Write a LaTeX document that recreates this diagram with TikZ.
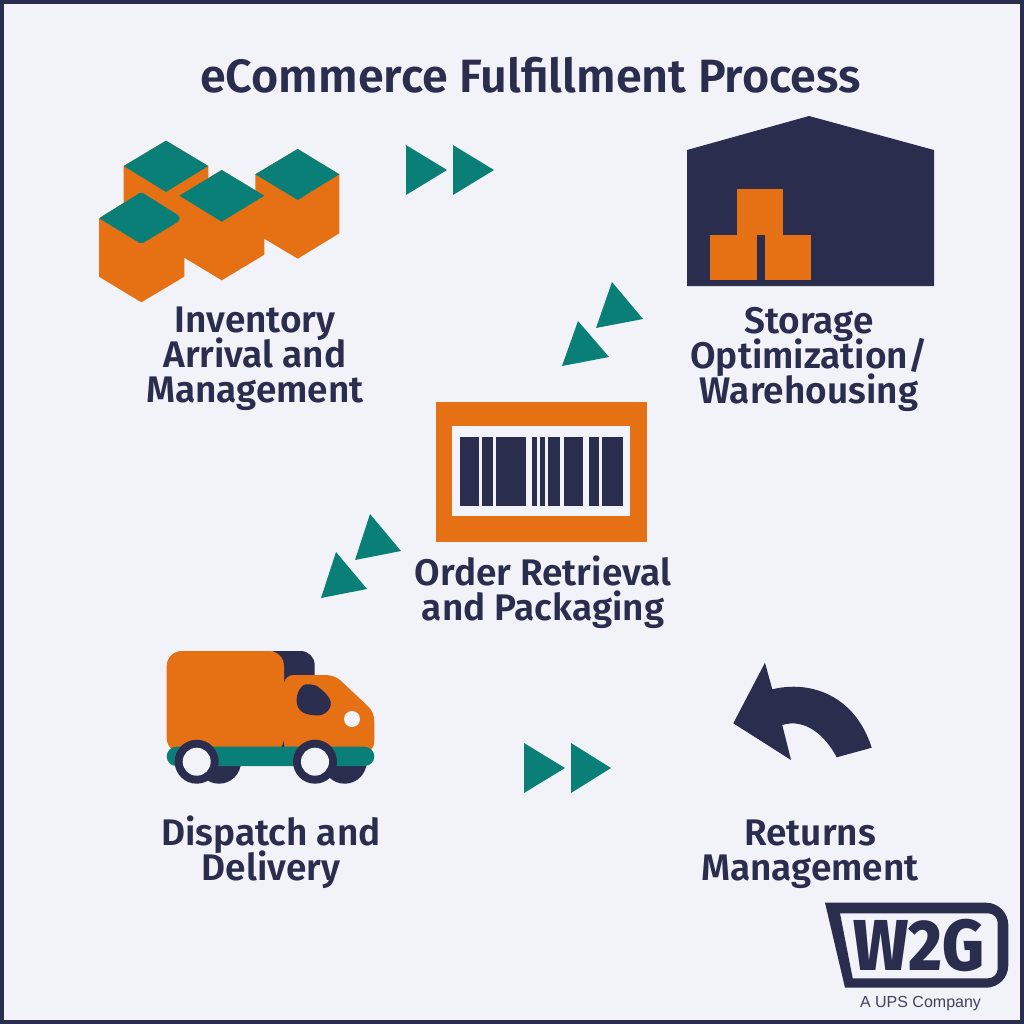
\documentclass[tikz,border=0pt]{standalone}
\usepackage{fontspec}
\setmainfont{Fira Sans}
\newfontfamily\labfont{Fira Sans SemiBold}
\newfontfamily\logofont{Fira Sans ExtraBold}
\newfontfamily\ups{Liberation Sans}
\definecolor{navy}{HTML}{2B2D4E}
\definecolor{paper}{HTML}{F1F3F9}
\definecolor{tealc}{HTML}{0A7F78}
\definecolor{orangec}{HTML}{E67114}
\newcommand{\labset}{\labfont\fontsize{18.5}{17.5}\selectfont\lineskiplimit=-20pt\relax}
\tikzset{
  lab/.style={font=\labset,text=navy,align=center,inner sep=0pt},
  ttl/.style={font=\labfont\fontsize{23.35}{24}\selectfont,text=navy,inner sep=0pt},
  tri/.style={fill=tealc,draw=none},
  org/.style={fill=orangec,draw=none},
  nvy/.style={fill=navy,draw=none},
  tl/.style={fill=tealc,draw=none},
  pap/.style={fill=paper,draw=none}
}
\begin{document}
\begin{tikzpicture}[x=0.5pt,y=-0.5pt]
\useasboundingbox (0,0) rectangle (1024,1024);
\fill[navy] (0,0) rectangle (1024,1024);
\fill[paper] (4,4) rectangle (1020,1020);
\node[ttl] (title) at (530.5,75) {eCommerce Fulfillment Process};
% cubes
\fill[org] (123.7,166) -- (166,140.7) -- (208.3,166) -- (208.3,225) -- (166,250) -- (123.7,225) -- cycle;
\fill[tl] (166,140.7) -- (208.3,166) -- (166,192) -- (123.7,166) -- cycle;
\fill[org] (255.3,174.3) -- (297.7,149) -- (339.3,174.3) -- (339.3,233.3) -- (297.7,258.7) -- (255.3,233.3) -- cycle;
\fill[org] (179.3,195.7) -- (221.7,170) -- (264.3,195.7) -- (264.3,254.7) -- (221.7,280.3) -- (179.3,254.7) -- cycle;
\fill[org] (99,218.3) -- (141.3,192) -- (184.3,218) -- (184.3,276.7) -- (141.3,302.3) -- (99,276.7) -- cycle;
\fill[tl] (297.7,149) -- (339.3,174.3) -- (297.7,200) -- (255.3,174.3) -- cycle;
\fill[tl] (221.7,170) -- (264.3,195.7) -- (221.7,221.7) -- (179.3,195.7) -- cycle;
\fill[tl,rounded corners=1pt] (141.3,192) -- (179.5,216) -- (179.5,221) -- (141.3,244) -- (99,218.3) -- cycle;
\node[lab] (inv) at (255,359) {Inventory\\Arrival and\\Management};
% warehouse
\fill[nvy] (687,150) -- (809,116) -- (934,150) -- (934,286) -- (687,286) -- cycle;
\fill[org] (710,235) rectangle (757,280);
\fill[org] (765,235) rectangle (811,280);
\fill[org] (737,189) rectangle (783,235);
\node[lab] (sto) at (809,359) {Storage\\Optimization/\\Warehousing};
% barcode
\fill[org] (436,401.7) rectangle (647.3,542);
\fill[pap] (452.3,425.7) rectangle (630.3,516.3);
\foreach \a/\b in {459.7/479,482.3/492.7,496/526,532.3/537.3,540.3/545,548.3/559.7,564/583.3,589/598.7,602/622.7}
  \fill[nvy] (\a,437) rectangle (\b,506);
\node[lab] (ord) at (543,592) {Order Retrieval\\and Packaging};
% truck
\fill[nvy] (219,761.7) circle[radius=22];
\fill[nvy] (344.7,761.7) circle[radius=22];
\fill[nvy,rounded corners=7pt] (262,651) -- (314.7,651) -- (314.7,700) -- (262,700) -- cycle;
\fill[nvy] (279,730) rectangle (287,748);
\fill[org,rounded corners=7.5pt] (166.7,651) -- (284,651) -- (284,753) -- (166.7,753) -- cycle;
\fill[org] (284,683) .. controls (285,678) and (289,675) .. (294,675) -- (325,675) .. controls (332,675) and (336,677) .. (340,680) -- (366.7,705) .. controls (372,710) and (374.3,714) .. (374.3,722) -- (374.3,740) .. controls (374.3,748) and (372,750) .. (366,750) -- (286,750) -- (284,745) -- cycle;
\fill[nvy] plot[smooth cycle,tension=0.7] coordinates {(310,684.3) (320,688.3) (330.7,701.7) (325,713.3) (311.7,715) (300,710) (296.7,698.3) (301.7,686.7)};
\fill[pap] (352,719) circle[radius=8];
\fill[tl,rounded corners=4.8pt] (166.7,746.7) rectangle (374.3,766);
\foreach \c in {196.7,315}{
  \fill[nvy] (\c,761.7) circle[radius=22];
  \fill[pap] (\c,761.7) circle[radius=14];
}
\node[lab] (dis) at (271,852.5) {Dispatch and\\Delivery};
% return arrow
\fill[nvy] (765,662.7) -- (772.3,689.3) .. controls (810,680) and (855,695) .. (871.7,747.7) -- (836.7,757.3) .. controls (825,735) and (805,718) .. (782.3,725) -- (791,760) -- (733.3,723.3) -- cycle;
\node[lab] (ret) at (810,854.5) {Returns\\Management};
% triangles
\fill[tri] (406,145) -- (447,170) -- (406,195) -- cycle;
\fill[tri] (453,145) -- (494,170) -- (453,195) -- cycle;
\fill[tri] (524,743) -- (565,768) -- (524,793) -- cycle;
\fill[tri] (571,743) -- (611,768) -- (571,793) -- cycle;
\fill[tri] (612,282) -- (643,319) -- (596,328) -- cycle;
\fill[tri] (578,321) -- (609,357) -- (562,366) -- cycle;
\fill[tri] (370,514) -- (401,551) -- (355,560) -- cycle;
\fill[tri] (336,552) -- (367,589) -- (321,598) -- cycle;
% logo
\fill[nvy,even odd rule] (825,902.7) -- (986,902.7) arc[start angle=-90,end angle=0,radius=22.3] -- (1008.3,965.4) arc[start angle=0,end angle=90,radius=22.3] -- (845,987.7) -- cycle
 (840,913.3) -- (988,913.3) arc[start angle=-90,end angle=0,radius=9.7] -- (997.7,968.6) arc[start angle=0,end angle=90,radius=9.7] -- (852.7,978.3) -- cycle;
\node[font=\logofont\fontsize{36}{36}\selectfont,text=navy,inner sep=0pt,xscale=0.9] (logo) at (919,945) {W2G};
\node[font=\ups\fontsize{8}{9}\selectfont,text=navy!90,inner sep=0pt] (co) at (920.5,1003.5) {A UPS Company};
\end{tikzpicture}
\end{document}
